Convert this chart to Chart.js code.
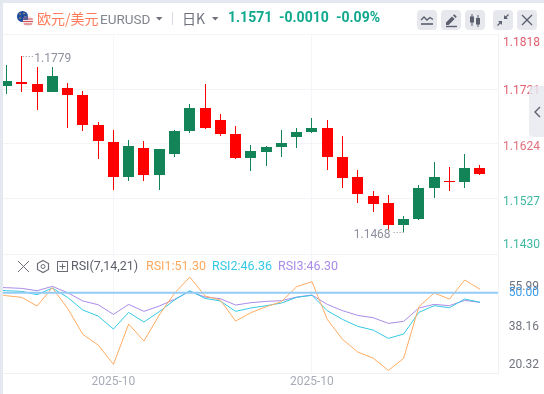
<!DOCTYPE html>
<html><head><meta charset="utf-8">
<script src="https://cdn.jsdelivr.net/npm/chart.js@4"></script>
<style>
html,body{margin:0;padding:0;background:#fff;overflow:hidden}
#wrap{position:relative;width:544px;height:394px;font-family:Roboto,sans-serif;overflow:hidden}
canvas{position:absolute;left:0;top:0}
.t{position:absolute;white-space:nowrap;line-height:16px}
.b{position:absolute;top:10px;width:20px;height:20px;background:#e6e8ee;border-radius:4px}
.b svg{display:block}
#top{position:absolute;left:0;top:0;width:544px;height:3px;background:#e4e8ef}
#left{position:absolute;left:0;top:0;width:3px;height:394px;background:#e4e8ef}
#tab{position:absolute;left:529px;top:86px;width:15px;height:51px;background:rgba(232,232,240,.82);border-radius:4px 0 0 4px}
</style></head><body>
<div id="wrap">
<canvas id="c" width="544" height="394"></canvas>
<div id="top"></div><div id="left"></div>
<svg style="position:absolute;left:16px;top:10px" width="20" height="18" viewBox="0 0 20 18">
<circle cx="6.5" cy="6.5" r="5.5" fill="#1f4aa0"/><circle cx="4" cy="4" r=".7" fill="#f2c230"/><circle cx="8" cy="3.5" r=".7" fill="#f2c230"/><circle cx="9" cy="7" r=".7" fill="#f2c230"/><circle cx="4" cy="8" r=".7" fill="#f2c230"/>
<circle cx="12" cy="11" r="5.2" fill="#f3e4e4"/><path d="M7.2 9h9.6M7 11.5h10M7.8 14h8.4" stroke="#d8525a" stroke-width="1.2"/><path d="M7 10a5.2 5.2 0 0 1 5-4.2V10z" fill="#5a5f95"/>
</svg>
<span class="t" style="left:37px;top:9px;font:14px/18px 'Noto Sans CJK SC';color:#ff7d5c">欧元/美元</span>
<span class="t" style="left:100px;top:11px;font-size:13.5px;color:#83858f">EURUSD</span>
<svg style="position:absolute;left:156px;top:17px" width="7" height="4"><path d="M0 0h6.5L3.2 3.6z" fill="#6d707c"/></svg>
<div style="position:absolute;left:172px;top:12px;width:1px;height:13px;background:#d8dbe2"></div>
<span class="t" style="left:182px;top:9px;font:14px/18px 'Noto Sans CJK SC';color:#6f727e">日K</span>
<svg style="position:absolute;left:212px;top:17px" width="7" height="4"><path d="M0 0h6.5L3.2 3.6z" fill="#6d707c"/></svg>
<span class="t" style="left:228px;top:9px;font-weight:700;font-size:14px;color:#0fa88c">1.1571</span>
<span class="t" style="left:279px;top:9px;font-weight:700;font-size:14px;color:#0fa88c">-0.0010</span>
<span class="t" style="left:336px;top:9px;font-weight:700;font-size:14px;color:#0fa88c">-0.09%</span>
<div class="b" style="left:417px"><svg width="20" height="20"><path d="M4 10l3-3 3 3 3-2.5 3 2" fill="none" stroke="#5b5f6e" stroke-width="1.4"/><path d="M4 14h12" stroke="#5b5f6e" stroke-width="1.6"/></svg></div>
<div class="b" style="left:441px"><svg width="20" height="20"><path d="M5 12.5l6-6 2.6 2.6-6 6H5z M12 5.5l1.3-1.2 2.5 2.5-1.2 1.3z" fill="#5b5f6e"/><path d="M5 16.5h11" stroke="#5b5f6e" stroke-width="1.4"/></svg></div>
<div class="b" style="left:465px"><svg width="20" height="20"><path d="M7 4v12M13 5v12" stroke="#5b5f6e"/><rect x="5" y="6.5" width="4" height="6" fill="#5b5f6e"/><rect x="11" y="8" width="4" height="6.5" fill="#5b5f6e"/></svg></div>
<div class="b" style="left:493px"><svg width="20" height="20"><path d="M15.5 4.5l-4 4M4.5 15.5l4-4" stroke="#5b5f6e" stroke-width="1.3"/><path d="M11 5v4h4zM5 11h4v4z" fill="#5b5f6e"/></svg></div>
<div class="b" style="left:517px"><svg width="20" height="20"><path d="M5 5l10 10M15 5L5 15" stroke="#5b5f6e" stroke-width="1.3"/></svg></div>
<div id="tab"><svg width="15" height="51"><path d="M11 26l-5 5 5 5" transform="translate(0,-5)" fill="none" stroke="#5b5f6e" stroke-width="1.4"/></svg></div>
<svg style="position:absolute;left:16px;top:259px" width="54" height="15">
<path d="M2 2l11 11M13 2L2 13" stroke="#6a6d78" stroke-width="1"/>
<path d="M27 1.5l5.5 3v6l-5.5 3-5.5-3v-6z" fill="none" stroke="#6a6d78" stroke-width="1.2"/><circle cx="27" cy="7.5" r="2" fill="none" stroke="#6a6d78"/>
<rect x="41.5" y="2.5" width="10" height="10" fill="none" stroke="#6a6d78"/><path d="M46.5 4.5v6M43.5 7.5h6" stroke="#6a6d78"/>
</svg>
<span class="t" style="left:71px;top:258px;font-size:12.5px;color:#5d606b">RSI(7,14,21)</span>
<span class="t" style="left:146px;top:258px;font-size:12.5px;color:#ffa95e">RSI1:51.30</span>
<span class="t" style="left:212px;top:258px;font-size:12.5px;color:#35c9e4">RSI2:46.36</span>
<span class="t" style="left:278px;top:258px;font-size:12.5px;color:#a98ce8">RSI3:46.30</span>
</div>
<script>
// Daily candles, oldest to newest
const opens  = [1.1726,1.1733,1.1730,1.1715,1.1723,1.1710,1.1657,1.1628,1.1565,1.1617,1.1570,1.1606,1.1647,1.1687,1.1666,1.1642,1.1599,1.1610,1.1619,1.1636,1.1645,1.1652,1.1601,1.1566,1.1532,1.1520,1.1481,1.1492,1.1546,1.1559,1.1557,1.1582];
const closes = [1.1735,1.1730,1.1716,1.1744,1.1710,1.1657,1.1629,1.1565,1.1620,1.1570,1.1615,1.1647,1.1687,1.1652,1.1642,1.1599,1.1612,1.1619,1.1626,1.1645,1.1652,1.1601,1.1564,1.1536,1.1518,1.1481,1.1492,1.1546,1.1566,1.1557,1.1582,1.1571];
const highs  = [1.1763,1.1779,1.1760,1.1760,1.1732,1.1717,1.1663,1.1649,1.1631,1.1629,1.1615,1.1649,1.1695,1.1730,1.1677,1.1656,1.1622,1.1620,1.1649,1.1652,1.1670,1.1666,1.1638,1.1578,1.1541,1.1534,1.1497,1.1552,1.1592,1.1583,1.1606,1.1587];
const lows   = [1.1713,1.1716,1.1684,1.1715,1.1652,1.1647,1.1598,1.1542,1.1558,1.1558,1.1543,1.1601,1.1643,1.1650,1.1638,1.1598,1.1576,1.1585,1.1601,1.1617,1.1643,1.1578,1.1546,1.1520,1.1504,1.1472,1.1468,1.1490,1.1529,1.1541,1.1546,1.1569];
// RSI series; the first value belongs to the session just left of the visible window
const rsi1 = [49.75,48.85,48.22,44.91,51.91,44.02,34.10,30.03,22.65,38.04,31.55,41.48,49.75,55.99,48.73,47.20,39.19,42.37,44.66,46.56,52.29,54.20,39.82,32.19,27.35,25.06,20.32,24.94,44.66,49.87,47.58,54.83,51.30];
const rsi2 = [51.15,50.76,50.51,49.24,51.78,48.22,43.38,41.09,36.13,42.49,38.80,42.75,47.20,50.76,47.84,46.82,42.88,44.15,45.04,46.06,48.22,48.98,43.13,39.82,37.15,35.75,32.57,34.22,42.49,45.04,44.27,47.58,46.36];
const rsi3 = [52.04,51.91,51.65,50.76,52.42,50.00,46.82,45.42,41.73,45.55,42.88,44.91,47.46,50.51,48.35,47.71,45.29,46.18,46.69,46.95,48.35,49.11,45.55,43.13,41.35,40.46,38.30,39.06,44.15,45.55,45.04,47.07,46.30];
const rsiLevel = 50;
const priceTicks = [1.1818,1.1721,1.1624,1.1527,1.1430];
const rsiTicks = [55.99,38.16,20.32];
const xTickIndex = [7,20];
const xTickLabels = ["2025-10","2025-10"];

const RED='#ff0000', GREEN='#128458';
const isUp = i => closes[i] >= opens[i];
const colors = opens.map((_,i)=>isUp(i)?GREEN:RED);
const FONT = "12px Roboto";

// Keep candles crisp: snap each bar element to the device pixel grid.
const snap = {id:'snap',beforeDatasetDraw(chart,args){
  const meta=args.meta; if(meta.type!=='bar')return;
  meta.data.forEach(el=>{
    el.x=Math.floor(el.x)+0.5;
    const a=Math.round(el.y),b=Math.round(el.base);
    el.y=a; el.base=(a===b)?b+1:b;
  });
}};
const labelOffsetsPrice=[8.5,1.5,2.5,2.5,-9];
const labelOffsetsRsi=[10,3.5,-5.5];
const annotate = {id:'annotate',afterDraw(chart){
  const c=chart.ctx,x=chart.scales.x,y=chart.scales.y,r=chart.scales.y2;
  c.save();c.font=FONT;c.textBaseline='middle';c.textAlign='right';
  priceTicks.forEach((v,i)=>{
    c.fillStyle=i<2?'#e2606f':(i===2?'#e2707c':'#3cb9a0');
    c.fillText(v.toFixed(4),540,y.getPixelForValue(v)+labelOffsetsPrice[i]);
  });
  rsiTicks.forEach((v,i)=>{
    c.fillStyle='#71747f';
    c.fillText(v.toFixed(2),539,r.getPixelForValue(v)+labelOffsetsRsi[i]);
  });
  c.fillStyle='#3d9cea';
  c.fillText(rsiLevel.toFixed(2),539,r.getPixelForValue(rsiLevel)+0.5);
  // extreme labels
  const hi=Math.max(...highs),lo=Math.min(...lows);
  const hx=x.getPixelForValue(highs.indexOf(hi)),hy=y.getPixelForValue(hi);
  const lx=x.getPixelForValue(lows.indexOf(lo)),ly=y.getPixelForValue(lo);
  c.strokeStyle='#8d909d';c.lineWidth=1;c.setLineDash([1,2]);
  c.beginPath();c.moveTo(hx+1,Math.round(hy)+.5);c.lineTo(hx+11,Math.round(hy)+.5);
  c.moveTo(lx,Math.round(ly)+.5);c.lineTo(lx-11,Math.round(ly)+.5);c.stroke();
  c.setLineDash([]);c.fillStyle='#8d909d';
  c.textAlign='left';c.fillText(hi.toFixed(4),hx+12.5,hy+3);
  c.textAlign='right';c.fillText(lo.toFixed(4),lx-13,ly+3);
  c.restore();
}};

const idx=opens.map((_,i)=>i);
new Chart(document.getElementById('c'),{
  data:{datasets:[
    {type:'bar',label:'wick',yAxisID:'y',data:idx.map(i=>({x:i,y:[lows[i],highs[i]]})),backgroundColor:colors,barThickness:1,grouped:false,inflateAmount:0,borderWidth:0,order:3},
    {type:'bar',label:'body',yAxisID:'y',data:idx.map(i=>({x:i,y:[opens[i],closes[i]]})),backgroundColor:colors,barThickness:11,grouped:false,inflateAmount:0,borderWidth:0,order:2},
    {type:'line',label:'RSI1',yAxisID:'y2',data:rsi1.map((v,i)=>({x:i-1,y:v})),borderColor:'#ffab62',borderWidth:1,pointRadius:0,tension:0,order:1},
    {type:'line',label:'RSI2',yAxisID:'y2',data:rsi2.map((v,i)=>({x:i-1,y:v})),borderColor:'#35c9e4',borderWidth:1,pointRadius:0,tension:0,order:1},
    {type:'line',label:'RSI3',yAxisID:'y2',data:rsi3.map((v,i)=>({x:i-1,y:v})),borderColor:'#a98ce8',borderWidth:1,pointRadius:0,tension:0,order:1},
    {type:'line',label:'level',yAxisID:'y2',data:[{x:-1,y:rsiLevel},{x:33,y:rsiLevel}],borderColor:'#93cbf5',borderWidth:2,pointRadius:0,order:0}
  ]},
  options:{
    responsive:false,animation:false,
    layout:{padding:{left:3,top:34,right:0,bottom:0}},
    plugins:{legend:{display:false},tooltip:{enabled:false}},
    scales:{
      x:{type:'linear',min:-0.229,max:32.18,offset:false,
        afterBuildTicks(s){s.ticks=xTickIndex.map(v=>({value:v}));},
        afterFit(s){s.height=21;},
        grid:{color:'#f5f6fa',drawTicks:false,offset:false},
        border:{color:'#eff0f4'},
        ticks:{autoSkip:false,maxRotation:0,padding:2,color:'#a8abb8',font:{family:'Roboto',size:12},
          callback(v){return xTickLabels[xTickIndex.indexOf(v)];}}
      },
      y:{type:'linear',position:'right',stack:'p',stackWeight:220,min:1.1430,max:1.1818,
        afterBuildTicks(s){s.ticks=priceTicks.map(v=>({value:v}));},
        afterFit(s){s.width=46;},
        grid:{color:'#f3f4f7',drawTicks:false},border:{color:'#f1f2f5'},
        ticks:{display:false}
      },
      y2:{type:'linear',position:'right',stack:'p',stackWeight:119,min:19.35,max:64.77,
        afterBuildTicks(s){s.ticks=[];},
        afterFit(s){s.width=46;},
        grid:{display:false},border:{color:'#f1f2f5'},
        ticks:{display:false}
      }
    }
  },
  plugins:[snap,annotate]
});
</script>
</body></html>
